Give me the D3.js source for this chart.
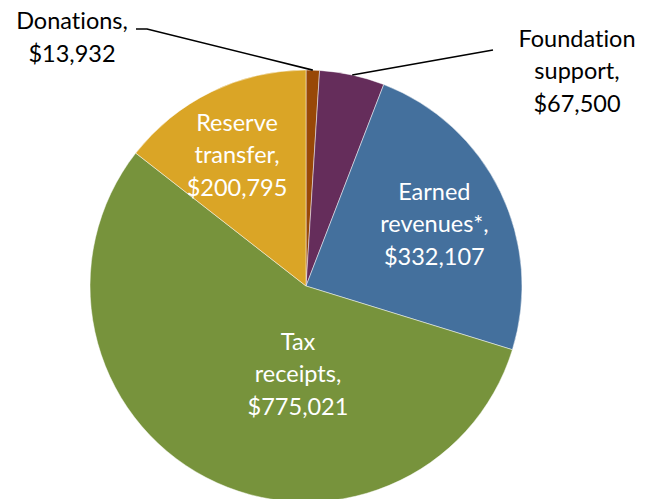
<!DOCTYPE html>
<html>
<head>
<meta charset="utf-8">
<script src="https://cdn.jsdelivr.net/npm/d3@7"></script>
<style>
  html, body { margin: 0; padding: 0; background: #fff; }
  svg text { font-family: Lato, "Open Sans", sans-serif; font-size: 23.5px; font-variant-ligatures: none; }
</style>
</head>
<body>
<div id="chart"></div>
<script>
// slice order follows the chart, clockwise from 12 o'clock
const categories = ["Donations", "Foundation support", "Earned revenues*", "Tax receipts", "Reserve transfer"]
const amounts = [13932, 67500, 332107, 775021, 200795]
const label_lines = [
  ["Donations,", "$13,932"],
  ["Foundation", "support,", "$67,500"],
  ["Earned", "revenues*,", "$332,107"],
  ["Tax", "receipts,", "$775,021"],
  ["Reserve", "transfer,", "$200,795"]
]
const colors = ["#984807", "#652d5b", "#44709d", "#77933c", "#daa526"]

const width = 657,
      height = 499,
      cx = 306,
      cy = 286,
      radius = 216,
      line_gap = 32.5

// label placement: inside ones by polar angle (deg) / radius fraction, outside ones by leader end
const inside_at = { 2: [64.2, 0.66], 3: [185.2, 0.41], 4: [332.2, 0.685] }
const outside_at = {
  0: { text: [72, 37.5], path: [[147, 29], [136, 29]] },
  1: { text: [577, 71], path: [[493, 50]] }
}

const svg = d3.select("#chart")
    .append("svg")
    .attr("width", width)
    .attr("height", height)

const g = svg.append("g")
    .attr("transform", `translate(${cx}, ${cy})`)

const data = categories.map((name, i) => ({ name, amount: amounts[i], i }))

const pie = d3.pie()
    .sort(null)
    .value(d => d.amount)

const arc = d3.arc()
    .innerRadius(0)
    .outerRadius(radius)

const arcs = pie(data)

g.selectAll("path.slice")
    .data(arcs)
    .enter()
    .append("path")
    .attr("class", "slice")
    .attr("d", arc)
    .attr("fill", d => colors[d.data.i])
    .attr("stroke", "#ffffff")
    .attr("stroke-opacity", 0.6)
    .attr("stroke-width", 0.8)

const polar = (deg, r) => {
  const a = deg * Math.PI / 180
  return [r * Math.sin(a), -r * Math.cos(a)]
}

function draw_lines(sel, x, y, lines, fill) {
  const t = sel.append("text")
      .attr("text-anchor", "middle")
      .attr("fill", fill)
  lines.forEach((line, k) => {
    t.append("tspan")
        .attr("x", x)
        .attr("y", y + (k - (lines.length - 1) / 2) * line_gap)
        .attr("dy", "0.35em")
        .text(line)
  })
}

// inside labels
arcs.forEach(d => {
  const pos = inside_at[d.data.i]
  if (!pos) return
  const [x, y] = polar(pos[0], pos[1] * radius)
  draw_lines(g, x, y, label_lines[d.data.i], "#ffffff")
})

// outside labels with leader lines from the slice edge
arcs.forEach(d => {
  const o = outside_at[d.data.i]
  if (!o) return
  const mid = (d.startAngle + d.endAngle) / 2 * 180 / Math.PI
  const [sx, sy] = polar(mid, radius)
  const pts = [[sx + cx, sy + cy], ...o.path]
  svg.append("path")
      .attr("d", d3.line()(pts))
      .attr("fill", "none")
      .attr("stroke", "#000")
      .attr("stroke-width", 1.6)
  draw_lines(svg, o.text[0], o.text[1], label_lines[d.data.i], "#000")
})
</script>
</body>
</html>
